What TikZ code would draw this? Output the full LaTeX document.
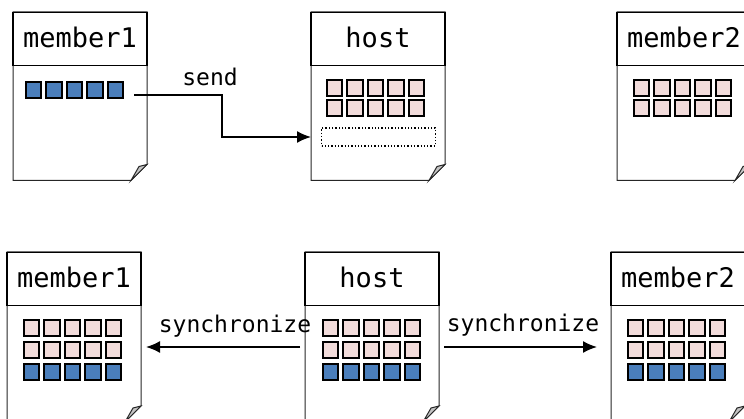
\documentclass[tikz,border=0pt]{standalone}
\usepackage{fontspec}
\setmonofont{DejaVu Sans Mono}
\usetikzlibrary{arrows.meta, positioning, calc}
\definecolor{cellblue}{RGB}{74,126,187}
\definecolor{cellpink}{RGB}{242,220,219}
\definecolor{flapgray}{RGB}{196,196,196}
\tikzset{
  docpage/.style={draw=none, minimum width=134pt, minimum height=#1, inner sep=0pt, outer sep=0pt},
  docline/.style={draw=black!85, line width=1pt},
  headbox/.style={draw, line width=1.3pt, minimum width=134pt, minimum height=53pt, inner sep=0pt,
    text height=20pt, text depth=4pt, font=\ttfamily\fontsize{27}{30}\selectfont},
  cell/.style={draw, line width=1.9pt, minimum size=15.5pt, inner sep=0pt},
  blue cell/.style={cell, fill=cellblue},
  pink cell/.style={cell, fill=cellpink},
  slot/.style={draw, dotted, line width=1.3pt, minimum width=114pt, minimum height=18pt, inner sep=0pt},
  flow/.style={line width=1.7pt, -{Latex[length=14pt,width=12pt]}},
  flowlabel/.style={font=\ttfamily\fontsize{23}{26}\selectfont, inner sep=0pt, anchor=base}
}
% #1 name, #2 left, #3 top, #4 height, #5 title
\newcommand{\drawdoc}[5]{%
  \node[docpage=#4, anchor=north west] (#1) at (#2,#3) {};
  \draw[docline] (#1.north west) -- (#1.north east) -- ([yshift=16pt]#1.south east)
    -- ([xshift=-16pt]#1.south east) -- (#1.south west) -- cycle;
  \filldraw[docline, fill=flapgray] ([yshift=16pt]#1.south east) -- ([xshift=-8pt,yshift=14pt]#1.south east)
    -- ([xshift=-16pt]#1.south east) -- cycle;
  \node[headbox, anchor=north] (#1-head) at (#1.north) {#5};
}

\begin{document}
\begin{tikzpicture}[x=1pt, y=-1pt]
\useasboundingbox (0,0) rectangle (744,419);
\clip (0,0) rectangle (744,419);

\drawdoc{memAT}{13}{12}{168.5}{member1}
\drawdoc{hostT}{311}{12}{168.5}{host}
\drawdoc{memBT}{617}{12}{168.5}{member2}
\drawdoc{memAB}{7}{252}{170}{member1}
\drawdoc{hostB}{305}{252}{170}{host}
\drawdoc{memBB}{611}{252}{170}{member2}

% cells, upper row
\foreach \i in {1,...,5} \node[blue cell] (at-\i) at (12.8+20.5*\i, 90) {};
\foreach \r/\y in {1/88, 2/108} \foreach \i in {1,...,5} \node[pink cell] (ht-\r-\i) at (313.8+20.5*\i, \y) {};
\foreach \r/\y in {1/88, 2/108} \foreach \i in {1,...,5} \node[pink cell] (bt-\r-\i) at (620.8+20.5*\i, \y) {};
\node[slot] (hslot) at (378.5,137) {};

% cells, lower row
\foreach \x/\d in {10.8/ab, 309.8/hb, 614.8/bb} {
  \foreach \r/\y in {1/328, 2/350} \foreach \i in {1,...,5} \node[pink cell] (\d-\r-\i) at (\x+20.5*\i, \y) {};
  \foreach \i in {1,...,5} \node[blue cell] (\d-3-\i) at (\x+20.5*\i, 372) {};
}

% send
\coordinate (sendstart) at ([xshift=10pt,yshift=-5pt]at-5.east);
\coordinate (sendturn) at (222,137);
\draw[flow] (sendstart) -| (sendturn) -- (hslot -| hostT.west);
\node[flowlabel] (sendlbl) at (210,86) {send};

% synchronize
\draw[flow] ([xshift=-5pt,yshift=-10pt]hostB.west) -- ([xshift=5pt,yshift=-10pt]memAB.east);
\draw[flow] ([xshift=5pt,yshift=-10pt]hostB.east) -- ([xshift=-14pt,yshift=-10pt]memBB.west);
\node[flowlabel] (synclblA) at (235,333) {synchronize};
\node[flowlabel] (synclblB) at (523,332) {synchronize};
\end{tikzpicture}
\end{document}
